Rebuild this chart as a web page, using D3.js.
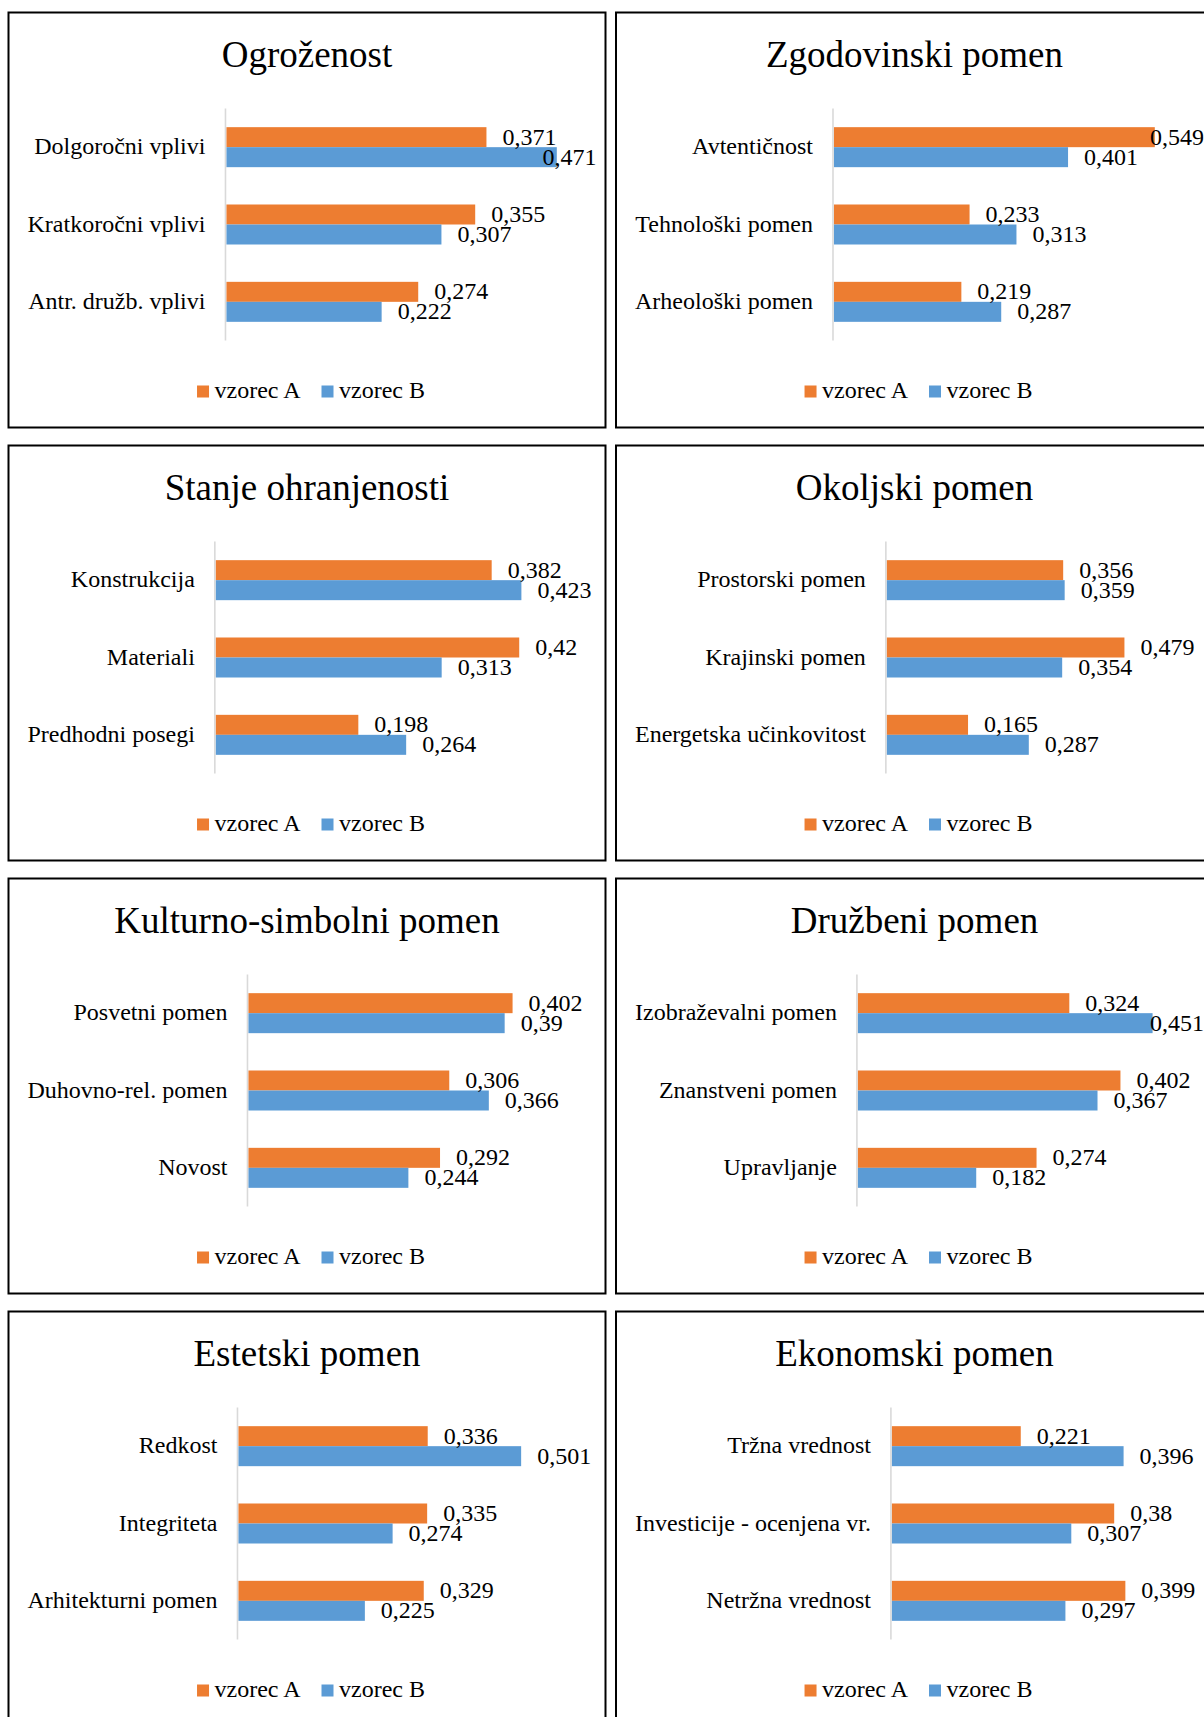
<!DOCTYPE html>
<html>
<head>
<meta charset="utf-8">
<script src="https://cdn.jsdelivr.net/npm/d3@7"></script>
<style>
  html, body { margin: 0; padding: 0; background: #fff; overflow: hidden; }
  svg { display: block; }
  text { font-family: "Liberation Serif", "Times New Roman", serif; fill: #000; }
</style>
</head>
<body>
<svg id="chart" width="1204" height="1717"></svg>
<script>
const titles = ["Ogroženost", "Zgodovinski pomen", "Stanje ohranjenosti", "Okoljski pomen",
  "Kulturno-simbolni pomen", "Družbeni pomen", "Estetski pomen", "Ekonomski pomen"];
const categories = [
  ["Dolgoročni vplivi", "Kratkoročni vplivi", "Antr. družb. vplivi"],
  ["Avtentičnost", "Tehnološki pomen", "Arheološki pomen"],
  ["Konstrukcija", "Materiali", "Predhodni posegi"],
  ["Prostorski pomen", "Krajinski pomen", "Energetska učinkovitost"],
  ["Posvetni pomen", "Duhovno-rel. pomen", "Novost"],
  ["Izobraževalni pomen", "Znanstveni pomen", "Upravljanje"],
  ["Redkost", "Integriteta", "Arhitekturni pomen"],
  ["Tržna vrednost", "Investicije - ocenjena vr.", "Netržna vrednost"]
];
const vzorecA = [
  [0.371, 0.355, 0.274],
  [0.549, 0.233, 0.219],
  [0.382, 0.42, 0.198],
  [0.356, 0.479, 0.165],
  [0.402, 0.306, 0.292],
  [0.324, 0.402, 0.274],
  [0.336, 0.335, 0.329],
  [0.221, 0.38, 0.399]
];
const vzorecB = [
  [0.471, 0.307, 0.222],
  [0.401, 0.313, 0.287],
  [0.423, 0.313, 0.264],
  [0.359, 0.354, 0.287],
  [0.39, 0.366, 0.244],
  [0.451, 0.367, 0.182],
  [0.501, 0.274, 0.225],
  [0.396, 0.307, 0.297]
];
const axisMax = [0.5, 0.6, 0.5, 0.6, 0.5, 0.5, 0.6, 0.5];
const seriesNames = ["vzorec A", "vzorec B"];
const seriesColors = ["#ED7D31", "#5B9BD5"];

const svg = d3.select("#chart");
const panelW = 597, panelH = 415;
const colX = [8.5, 616];
const rowY = [12.5, 445.5, 878.5, 1311.5];
const fontSize = 24;

function fmt(v) { return String(v).replace(".", ","); }

titles.forEach((title, i) => {
  const px = colX[i % 2], py = rowY[Math.floor(i / 2)];
  const g = svg.append("g").attr("transform", `translate(${px},${py})`);

  g.append("rect").attr("width", panelW).attr("height", panelH)
    .attr("fill", "#fff").attr("stroke", "#000").attr("stroke-width", 2);

  g.append("text").attr("x", panelW / 2).attr("y", 54)
    .attr("text-anchor", "middle").style("font-size", "37px").text(title);

  const labelLeft = 19;
  const tmp = g.append("g");
  let maxW = 0;
  categories[i].forEach(c => {
    const t = tmp.append("text").style("font-size", fontSize + "px").text(c);
    maxW = Math.max(maxW, t.node().getComputedTextLength());
  });
  tmp.remove();
  const axisX = labelLeft + maxW + 20;
  const plotRight = 568.7;

  const x = d3.scaleLinear().domain([0, axisMax[i]]).range([axisX, plotRight]);
  const y = d3.scaleBand().domain(categories[i]).range([96, 328]);
  const barH = 20;

  g.append("line").attr("x1", axisX).attr("x2", axisX).attr("y1", 96).attr("y2", 328)
    .attr("stroke", "#d9d9d9").attr("stroke-width", 1.6);

  const rows = categories[i].map((c, k) => ({ c, a: vzorecA[i][k], b: vzorecB[i][k] }));

  g.selectAll("text.cat").data(rows).enter().append("text")
    .attr("class", "cat")
    .attr("x", axisX - 20)
    .attr("y", d => y(d.c) + y.bandwidth() / 2 + 7)
    .attr("text-anchor", "end").style("font-size", fontSize + "px")
    .text(d => d.c);

  const bars = [];
  rows.forEach(d => {
    const cy = y(d.c) + y.bandwidth() / 2;
    bars.push({ v: d.a, s: 0, y0: cy - barH });
    bars.push({ v: d.b, s: 1, y0: cy });
  });

  g.selectAll("rect.bar").data(bars).enter().append("rect")
    .attr("class", "bar")
    .attr("x", x(0) + 1)
    .attr("y", d => d.y0)
    .attr("width", d => x(d.v) - x(0) - 1)
    .attr("height", barH)
    .attr("fill", d => seriesColors[d.s]);

  const labels = g.selectAll("text.val").data(bars).enter().append("text")
    .attr("class", "val")
    .style("font-size", fontSize + "px")
    .attr("y", d => d.y0 + barH / 2 + 7.5)
    .text(d => fmt(d.v));
  labels.each(function(d) {
    const w = this.getComputedTextLength();
    let lx = x(d.v) + 16;
    if (lx + w > panelW - 9) lx = panelW - 9 - w;
    d3.select(this).attr("x", lx);
  });

  const lg = g.append("g");
  const sq = 12, gapSq = 5.5, gapItem = 21;
  let cx = 0;
  const items = [];
  seriesNames.forEach((n, s) => {
    const t = lg.append("text").attr("y", 385).style("font-size", fontSize + "px").text(n);
    const w = t.node().getComputedTextLength();
    items.push({ t, w, s, x0: cx });
    cx += sq + gapSq + w + gapItem;
  });
  const total = cx - gapItem;
  const start = panelW / 2 - total / 2 + 4;
  items.forEach(it => {
    lg.append("rect").attr("x", start + it.x0).attr("y", 373)
      .attr("width", sq).attr("height", sq).attr("fill", seriesColors[it.s]);
    it.t.attr("x", start + it.x0 + sq + gapSq);
  });
});
</script>
</body>
</html>
